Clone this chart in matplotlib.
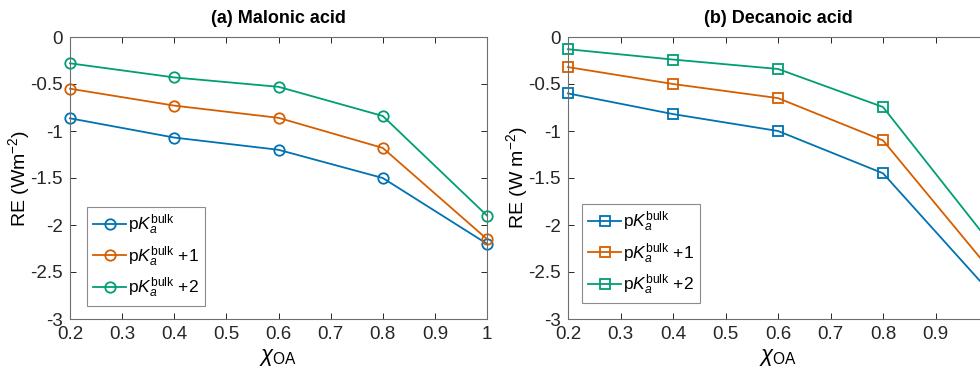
import matplotlib
matplotlib.use('Agg')
import matplotlib.pyplot as plt
from matplotlib.ticker import FuncFormatter

plt.rcParams['font.family'] = ['Liberation Sans', 'DejaVu Sans']
plt.rcParams['mathtext.fontset'] = 'custom'
plt.rcParams['mathtext.rm'] = 'Liberation Sans'
plt.rcParams['mathtext.it'] = 'Liberation Sans:italic'
plt.rcParams['mathtext.bf'] = 'Liberation Sans:bold'
plt.rcParams['axes.unicode_minus'] = False

# data
x_oa = [0.2, 0.4, 0.6, 0.8, 1.0]
malonic_bulk = [-0.865, -1.07, -1.20, -1.50, -2.20]
malonic_p1 = [-0.55, -0.73, -0.86, -1.18, -2.15]
malonic_p2 = [-0.28, -0.43, -0.53, -0.84, -1.90]
decanoic_bulk = [-0.60, -0.82, -1.00, -1.45, -2.69]
decanoic_p1 = [-0.32, -0.50, -0.65, -1.10, -2.45]
decanoic_p2 = [-0.13, -0.24, -0.34, -0.745, -2.16]
xticks = [0.2, 0.3, 0.4, 0.5, 0.6, 0.7, 0.8, 0.9, 1.0]
yticks = [-3, -2.5, -2, -1.5, -1, -0.5, 0]

labels = [r'p$K_a^{\mathrm{bulk}}$', r'p$K_a^{\mathrm{bulk}}$ +1', r'p$K_a^{\mathrm{bulk}}$ +2']
colors = ['#0072B2', '#D55E00', '#009E73']

fig = plt.figure(figsize=(9.8, 3.7), dpi=100)
W, H = 980.0, 370.0
ax1 = fig.add_axes([70 / W, 1 - 319 / H, 417 / W, 282 / H])
ax2 = fig.add_axes([568 / W, 1 - 319 / H, 420 / W, 282 / H])

fmt = FuncFormatter(lambda v, p: '%g' % v)
# the right panel runs past the figure edge, its last tick label is cut away
fmt_cut = FuncFormatter(lambda v, p: '' if v > 0.95 else '%g' % v)


def draw(ax, series, marker, ms, title, ylabel, leg_pos, xfmt):
    for ys, c, lab in zip(series, colors, labels):
        ax.plot(x_oa, ys, color=c, lw=1.3, marker=marker, ms=ms, mfc='none',
                mec=c, mew=1.3, label=lab, clip_on=False)
    ax.set_xlim(0.2, 1.0)
    ax.set_ylim(-3, 0)
    ax.set_xticks(xticks)
    ax.set_yticks(yticks)
    ax.xaxis.set_major_formatter(xfmt)
    ax.yaxis.set_major_formatter(fmt)
    ax.tick_params(direction='in', top=True, right=True, labelsize=13.5,
                   colors='#262626', length=4, width=0.7, pad=5)
    for s in ax.spines.values():
        s.set_color('#6e6e6e')
        s.set_linewidth(0.8)
    ax.set_title(title, fontsize=13, fontweight='bold', pad=10)
    ax.set_xlabel(r'$\chi_{\mathrm{OA}}$', fontsize=16, labelpad=3)
    ax.set_ylabel(ylabel, fontsize=14, labelpad=-1)
    leg = ax.legend(loc='lower left', bbox_to_anchor=leg_pos, fontsize=12.5,
                    frameon=True, fancybox=False, handlelength=1.9,
                    handletextpad=0.1, borderpad=0.35, labelspacing=0.4,
                    borderaxespad=0)
    leg.get_frame().set_edgecolor('#6e6e6e')
    leg.get_frame().set_linewidth(0.8)


draw(ax1, [malonic_bulk, malonic_p1, malonic_p2], 'o', 7.5,
     '(a) Malonic acid', r'RE (Wm$^{-2}$)', (17 / 417, 13 / 282), fmt)
draw(ax2, [decanoic_bulk, decanoic_p1, decanoic_p2], 's', 6.5,
     '(b) Decanoic acid', r'RE (W m$^{-2}$)', (14 / 420, 16 / 282), fmt_cut)

fig.savefig('out.png', dpi=100)
